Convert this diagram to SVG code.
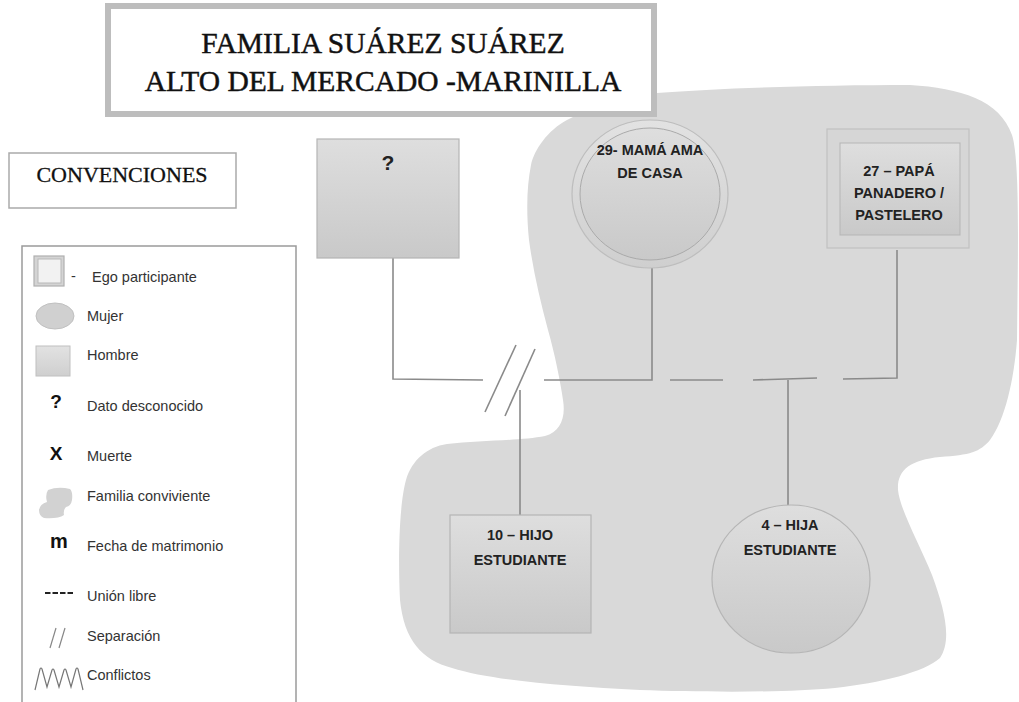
<svg xmlns="http://www.w3.org/2000/svg" width="1019" height="702" viewBox="0 0 1019 702">
<defs>
<linearGradient id="g" x1="0" y1="0" x2="0" y2="1"><stop offset="0" stop-color="#dedede"/><stop offset="1" stop-color="#c9c9c9"/></linearGradient>
<linearGradient id="gl" x1="0" y1="0" x2="0" y2="1"><stop offset="0" stop-color="#e2e2e2"/><stop offset="1" stop-color="#cfcfcf"/></linearGradient>
</defs>
<style>
.serif{font-family:"Liberation Serif","Times New Roman",serif;fill:#111;stroke:#111;stroke-width:0.45}
.lt{font-family:"Liberation Sans",Arial,sans-serif;font-size:14.5px;fill:#333}
.sym{font-family:"Liberation Sans",Arial,sans-serif;font-weight:bold;fill:#111}
.nt{font-family:"Liberation Sans",Arial,sans-serif;font-weight:bold;font-size:14.5px;fill:#222;text-anchor:middle}
.ln{stroke:#8a8a8a;stroke-width:1.6;fill:none}
.node{fill:url(#g);stroke:#b5b5b5;stroke-width:1.2}
</style>
<rect width="1019" height="702" fill="#fff"/>
<g id="familia-conviviente">
<path d="M567,120 C590,108 620,97 657,93 C720,88 820,85 910,85 C960,88 1000,100 1012,135 C1020,160 1018,250 1017,340 C1014,380 1005,420 990,440 C980,452 970,455 940,457 C910,460 897,470 898,490 C900,510 920,545 932,575 C945,610 952,640 940,658 C925,672 880,683 835,688 C780,693 700,692 640,690 C560,686 490,680 452,668 C422,660 404,640 400,600 C398,560 399,505 406,480 C412,460 427,447 447,444 C480,440 520,441 545,436 C560,432 566,418 563,400 C560,380 555,355 548,330 C540,300 533,270 529,240 C526,210 527,185 531,165 C534,150 548,130 567,120 Z" fill="#d9d9d9"/>
</g>
<g id="titulo">
<rect x="108" y="6" width="546" height="108" fill="#fff" stroke="#bdbdbd" stroke-width="6"/>
<text class="serif" x="383" y="53" font-size="29.5" text-anchor="middle">FAMILIA SUÁREZ SUÁREZ</text>
<text class="serif" x="383" y="91" font-size="29.5" text-anchor="middle">ALTO DEL MERCADO -MARINILLA</text>
</g>
<g id="convenciones">
<rect x="9" y="153" width="227" height="55" fill="#fff" stroke="#aaa" stroke-width="1.5"/>
<text class="serif" x="122" y="182" font-size="22" text-anchor="middle" style="stroke-width:0.3">CONVENCIONES</text>
</g>
<g id="leyenda">
<rect x="22" y="246" width="274" height="470" fill="#fff" stroke="#9a9a9a" stroke-width="1.5"/>
<rect x="34" y="256" width="30" height="30" fill="#d4d4d4" stroke="#b0b0b0" stroke-width="1.2"/>
<rect x="38" y="259" width="23" height="24" fill="#f2f2f2" stroke="#b8b8b8" stroke-width="1"/>
<text class="lt" x="71" y="281">-</text>
<text class="lt" x="92" y="282">Ego participante</text>
<ellipse cx="55" cy="316" rx="19" ry="13" fill="#d0d0d0" stroke="#c0c0c0"/>
<text class="lt" x="87" y="321">Mujer</text>
<rect x="36" y="346" width="34" height="30" fill="url(#gl)" stroke="#c0c0c0"/>
<text class="lt" x="87" y="360">Hombre</text>
<text class="sym" x="56" y="408" font-size="19" text-anchor="middle">?</text>
<text class="lt" x="87" y="411">Dato desconocido</text>
<text class="sym" x="56" y="460" font-size="19" text-anchor="middle">X</text>
<text class="lt" x="87" y="461">Muerte</text>
<path d="M48,490 Q58,486 70,489 Q73,492 72,500 Q71,506 66,507 Q63,510 64,515 Q58,519 44,518 Q39,516 39,510 Q40,504 47,502 Q45,495 48,490 Z" fill="#d2d2d2"/>
<text class="lt" x="87" y="501">Familia conviviente</text>
<text class="sym" x="59" y="548" font-size="20" text-anchor="middle">m</text>
<text class="lt" x="87" y="551">Fecha de matrimonio</text>
<line x1="45" y1="593" x2="73" y2="593" stroke="#222" stroke-width="2" stroke-dasharray="5.5,2"/>
<text class="lt" x="87" y="601">Unión libre</text>
<line x1="56" y1="628" x2="50" y2="648" stroke="#888" stroke-width="1.2"/>
<line x1="65" y1="628" x2="59" y2="648" stroke="#888" stroke-width="1.2"/>
<text class="lt" x="87" y="641">Separación</text>
<path d="M35,690 L40,669 Q41,667 42,669 L47,687 L52,670 Q53,668 54,670 L59,687 L64,670 Q65,668 66,670 L71,687 L76,669 Q77,667 78,669 L83,690" fill="none" stroke="#777" stroke-width="1.2"/>
<text class="lt" x="87" y="680">Conflictos</text>
</g>
<g id="conectores">
<polyline class="ln" points="393,258 393,379 483,380"/>
<line class="ln" x1="516" y1="345" x2="485" y2="412"/>
<line class="ln" x1="535" y1="349" x2="505" y2="416"/>
<line class="ln" x1="520" y1="390" x2="520" y2="515"/>
<polyline class="ln" points="544,380 652,380 652,268"/>
<line class="ln" x1="670" y1="380" x2="723" y2="380"/>
<line class="ln" x1="753" y1="380" x2="817" y2="378"/>
<polyline class="ln" points="843,379 897,378 897,250"/>
<line class="ln" x1="788" y1="380" x2="788" y2="505"/>
</g>
<g id="desconocido">
<rect class="node" x="317" y="139" width="142" height="119"/>
<text class="nt" x="388" y="170" style="font-size:21px">?</text>
</g>
<g id="mama">
<ellipse cx="650" cy="194" rx="78" ry="74" fill="url(#gl)" stroke="#bdbdbd" stroke-width="1.2"/>
<ellipse cx="650" cy="194" rx="70" ry="66" fill="url(#g)" stroke="#aaa" stroke-width="1"/>
<text class="nt" x="650" y="155">29- MAMÁ AMA</text>
<text class="nt" x="650" y="178">DE CASA</text>
</g>
<g id="papa">
<rect x="827" y="129" width="142" height="119" fill="#d6d6d6" stroke="#c0c0c0" stroke-width="1.2"/>
<rect x="840" y="143" width="120" height="92" fill="url(#g)" stroke="#b5b5b5" stroke-width="1"/>
<text class="nt" x="899" y="176">27 – PAPÁ</text>
<text class="nt" x="899" y="198">PANADERO /</text>
<text class="nt" x="899" y="220">PASTELERO</text>
</g>
<g id="hijo">
<rect class="node" x="450" y="515" width="141" height="118"/>
<text class="nt" x="520" y="540">10 – HIJO</text>
<text class="nt" x="520" y="565">ESTUDIANTE</text>
</g>
<g id="hija">
<ellipse class="node" cx="791" cy="579" rx="79" ry="74"/>
<text class="nt" x="790" y="530">4 – HIJA</text>
<text class="nt" x="790" y="555">ESTUDIANTE</text>
</g>
</svg>
